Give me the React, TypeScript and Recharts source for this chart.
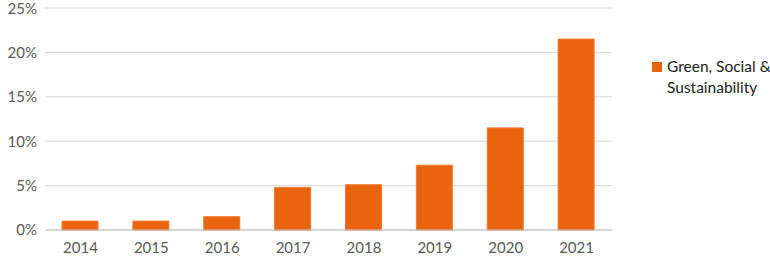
import { BarChart, Bar, XAxis, YAxis, CartesianGrid } from 'recharts'

const years = ['2014', '2015', '2016', '2017', '2018', '2019', '2020', '2021']
const shares = [1.0, 1.0, 1.5, 4.8, 5.1, 7.3, 11.5, 21.5]
const yTicks = [0, 5, 10, 15, 20, 25]
const seriesName = 'Green, Social & Sustainability'

const data = years.map((year, i) => ({ year, share: shares[i] }))

const FONT = 'Lato, "Open Sans", sans-serif'
const ORANGE = '#E8640F'

function LegendBox() {
  return (
    <div
      style={{
        position: 'absolute', left: 652, top: 56, display: 'flex', whiteSpace: 'nowrap',
        fontFamily: FONT, fontSize: 15.5, color: '#222', lineHeight: '21px',
      }}
    >
      <div style={{ width: 10, height: 10, background: ORANGE, marginTop: 6, marginRight: 5, flexShrink: 0 }} />
      <div>
        Green, Social &amp;
        <br />
        Sustainability
      </div>
    </div>
  )
}

export default function App() {
  return (
    <div style={{ position: 'absolute', left: 0, top: 0, width: 770, height: 258, background: '#fff', overflow: 'hidden' }}>
      <BarChart
        width={770}
        height={258}
        data={data}
        margin={{ top: 8, right: 158, bottom: 0, left: 0 }}
        barSize={36}
      >
        <CartesianGrid vertical={false} stroke="#d9d9d9" />
        <XAxis
          dataKey="year"
          height={28}
          tickLine={false}
          axisLine={{ stroke: '#bfbfbf' }}
          tick={{ fill: '#595959', fontSize: 15, fontFamily: FONT }}
          tickMargin={6}
        />
        <YAxis
          domain={[0, 25]}
          ticks={yTicks}
          width={45}
          tickLine={false}
          axisLine={false}
          tickFormatter={(v: number) => `${v}%`}
          tick={{ fill: '#595959', fontSize: 15, fontFamily: FONT }}
          tickMargin={2}
        />
        <Bar
          dataKey="share"
          name={seriesName}
          fill={ORANGE}
          stroke="#F07A30"
          strokeWidth={1}
          isAnimationActive={false}
        />
      </BarChart>
      <LegendBox />
    </div>
  )
}
